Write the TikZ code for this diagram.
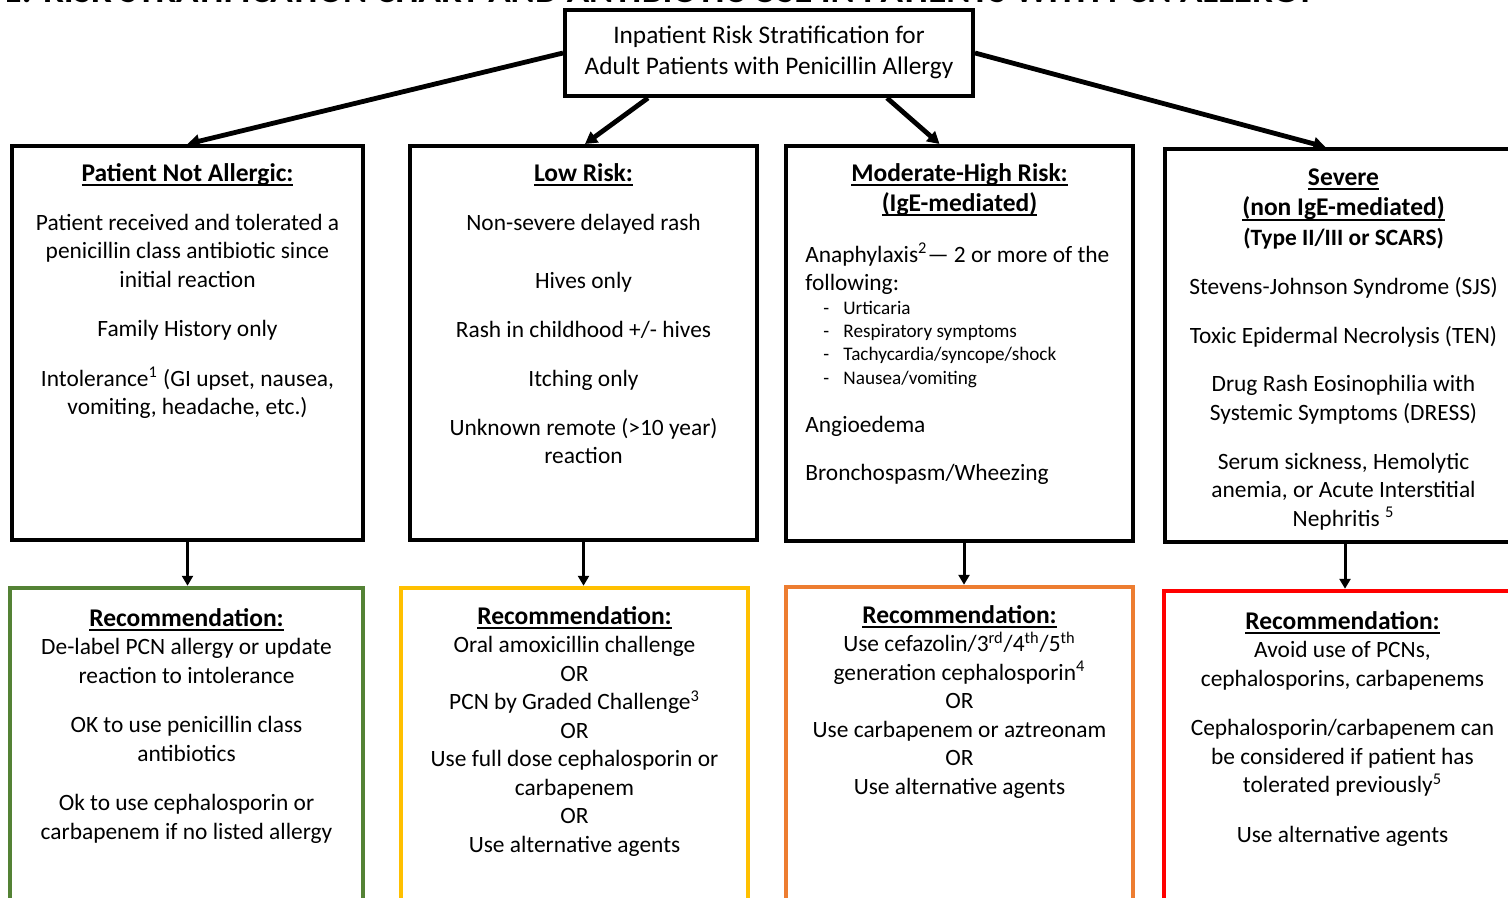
\documentclass[tikz,border=0pt]{standalone}
\usepackage{fontspec}
\setmainfont{Carlito}
\usepackage{tikz}
\usetikzlibrary{arrows.meta,fit,positioning}

\definecolor{recgreen}{HTML}{548235}
\definecolor{recyellow}{HTML}{FFC000}
\definecolor{recorange}{HTML}{ED7D31}
\definecolor{recred}{HTML}{FF0000}

\newcommand{\bodyfont}{\fontsize{11.7}{14.25}\selectfont}
\newcommand{\listfont}{\fontsize{9.6}{11.6}\selectfont}
\newcommand{\topstrut}{\rule{0pt}{10.5pt}}
\newcommand{\hdr}[1]{{\fontsize{12.75}{14.25}\selectfont\bfseries\setbox0=\hbox{#1}\rlap{\rule[-2.3pt]{\wd0}{0.8pt}}\box0}}

\tikzset{
  riskbox/.style={draw, line width=2pt, inner sep=0pt},
  recbox/.style={draw=#1, line width=2.25pt, inner sep=0pt},
  boxtext/.style={anchor=north, align=center, inner sep=0pt, font=\bodyfont},
  lefttext/.style={anchor=north west, align=left, inner sep=0pt, font=\bodyfont},
  mainarrow/.style={line width=2.4pt, -{Triangle[length=6pt,width=6.5pt]}},
  downarrow/.style={line width=1.5pt, -{Triangle[length=5pt,width=5.5pt]}}
}

\begin{document}
\begin{tikzpicture}[x=0.5pt, y=-0.5pt]
  \useasboundingbox (0,0) rectangle (1508,898);
  \clip (0,0) rectangle (1508,898);

  % cut-off caption
  \node[anchor=base east, inner sep=0pt, font=\fontsize{18.5}{22}\selectfont\bfseries] (caption) at (1315,2.5)
    {FIGURE 1: RISK STRATIFICATION CHART AND ANTIBIOTIC USE IN PATIENTS WITH PCN ALLERGY};

  % Start
  \node[riskbox, fit={(565,10) (973,96)}] (start) {};
  \node[boxtext, font=\fontsize{12.65}{15.5}\selectfont] (start-t) at (769,22)
    {\topstrut Inpatient Risk Stratification for\\ Adult Patients with Penicillin Allergy};

  % Patient not allergic
  \node[riskbox, fit={(12,146) (363,540)}] (notallergic) {};
  \node[boxtext] (notallergic-t) at (187.5,160)
    {\topstrut\hdr{Patient Not Allergic:}\\[10.25pt]
     Patient received and tolerated a\\
     penicillin class antibiotic since\\
     initial reaction\\[10.5pt]
     Family History only\\[10.5pt]
     Intolerance\textsuperscript{1} (GI upset, nausea,\\
     vomiting, headache, etc.)};

  % Low risk
  \node[riskbox, fit={(410,146) (757,540)}] (lowrisk) {};
  \node[boxtext] (lowrisk-t) at (583.5,160)
    {\topstrut\hdr{Low Risk:}\\[10.25pt]
     Non-severe delayed rash\\[14.75pt]
     Hives only\\[10.25pt]
     Rash in childhood +/- hives\\[10.25pt]
     Itching only\\[10.25pt]
     Unknown remote (>10 year)\\
     reaction};

  % Moderate-high risk
  \node[riskbox, fit={(786,146) (1133,541)}] (modrisk) {};
  \node[boxtext] (modrisk-t) at (959.5,160)
    {\topstrut\hdr{Moderate-High Risk:}\\[0.75pt]
     \hdr{(IgE-mediated)}};
  \node[lefttext] (modrisk-a) at (805,241)
    {\topstrut Anaphylaxis\textsuperscript{2}— 2 or more of the\\
     following:};
  \node[lefttext, font=\listfont] (modrisk-l) at (823,293)
    {\topstrut\makebox[10pt][l]{-}Urticaria\\
     \makebox[10pt][l]{-}Respiratory symptoms\\
     \makebox[10pt][l]{-}Tachycardia/syncope/shock\\
     \makebox[10pt][l]{-}Nausea/vomiting};
  \node[lefttext] (modrisk-b) at (805,411)
    {\topstrut Angioedema\\[9.75pt]
     Bronchospasm/Wheezing};

  % Severe
  \node[riskbox, fit={(1165,149) (1522,542)}] (severe) {};
  \node[boxtext] (severe-t) at (1343.5,164)
    {\topstrut\hdr{Severe}\\[1pt]
     \hdr{(non IgE-mediated)}\\[0.75pt]
     \textbf{(Type II/III or SCARS)}\\[10.25pt]
     Stevens-Johnson Syndrome (SJS)\\[10pt]
     Toxic Epidermal Necrolysis (TEN)\\[10pt]
     Drug Rash Eosinophilia with\\
     Systemic Symptoms (DRESS)\\[10.25pt]
     Serum sickness, Hemolytic\\
     anemia, or Acute Interstitial\\
     Nephritis \textsuperscript{5}};

  % Recommendations
  \node[recbox=recgreen, fit={(10,588) (363,920)}] (rec-notallergic) {};
  \node[boxtext] (rec-notallergic-t) at (186.5,605)
    {\topstrut\hdr{Recommendation:}\\
     De-label PCN allergy or update\\
     reaction to intolerance\\[10.5pt]
     OK to use penicillin class\\
     antibiotics\\[10.5pt]
     Ok to use cephalosporin or\\
     carbapenem if no listed allergy};

  \node[recbox=recyellow, fit={(401,588) (748,920)}] (rec-lowrisk) {};
  \node[boxtext] (rec-lowrisk-t) at (574.5,603)
    {\topstrut\hdr{Recommendation:}\\
     Oral amoxicillin challenge\\
     OR\\
     PCN by Graded Challenge\textsuperscript{3}\\
     OR\\
     Use full dose cephalosporin or\\
     carbapenem\\
     OR\\
     Use alternative agents};

  \node[recbox=recorange, fit={(786,587) (1133,920)}] (rec-modrisk) {};
  \node[boxtext] (rec-modrisk-t) at (959.5,602)
    {\topstrut\hdr{Recommendation:}\\
     Use cefazolin/3\textsuperscript{rd}/4\textsuperscript{th}/5\textsuperscript{th}\\
     generation cephalosporin\textsuperscript{4}\\
     OR\\
     Use carbapenem or aztreonam\\
     OR\\
     Use alternative agents};

  \node[recbox=recred, fit={(1164,591) (1522,920)}] (rec-severe) {};
  \node[boxtext] (rec-severe-t) at (1342.5,608)
    {\topstrut\hdr{Recommendation:}\\
     Avoid use of PCNs,\\
     cephalosporins, carbapenems\\[10.5pt]
     Cephalosporin/carbapenem can\\
     be considered if patient has\\
     tolerated previously\textsuperscript{5}\\[10.5pt]
     Use alternative agents};

  % Arrows
  \draw[mainarrow] (start.west) -- (notallergic.north);
  \draw[mainarrow] ([xshift=42.5pt]start.south west) -- ([xshift=0.75pt]lowrisk.north);
  \draw[mainarrow] ([xshift=-44pt]start.south east) -- ([xshift=-10pt]modrisk.north);
  \draw[mainarrow] (start.east) -- ([xshift=-9pt]severe.north);

  \draw[downarrow] (notallergic.south) -- (notallergic.south |- rec-notallergic.north);
  \draw[downarrow] (lowrisk.south) -- (lowrisk.south |- rec-lowrisk.north);
  \draw[downarrow] ([xshift=2.25pt]modrisk.south) -- ([xshift=2.25pt]modrisk.south |- rec-modrisk.north);
  \draw[downarrow] ([xshift=0.75pt]severe.south) -- ([xshift=0.75pt]severe.south |- rec-severe.north);
\end{tikzpicture}
\end{document}
